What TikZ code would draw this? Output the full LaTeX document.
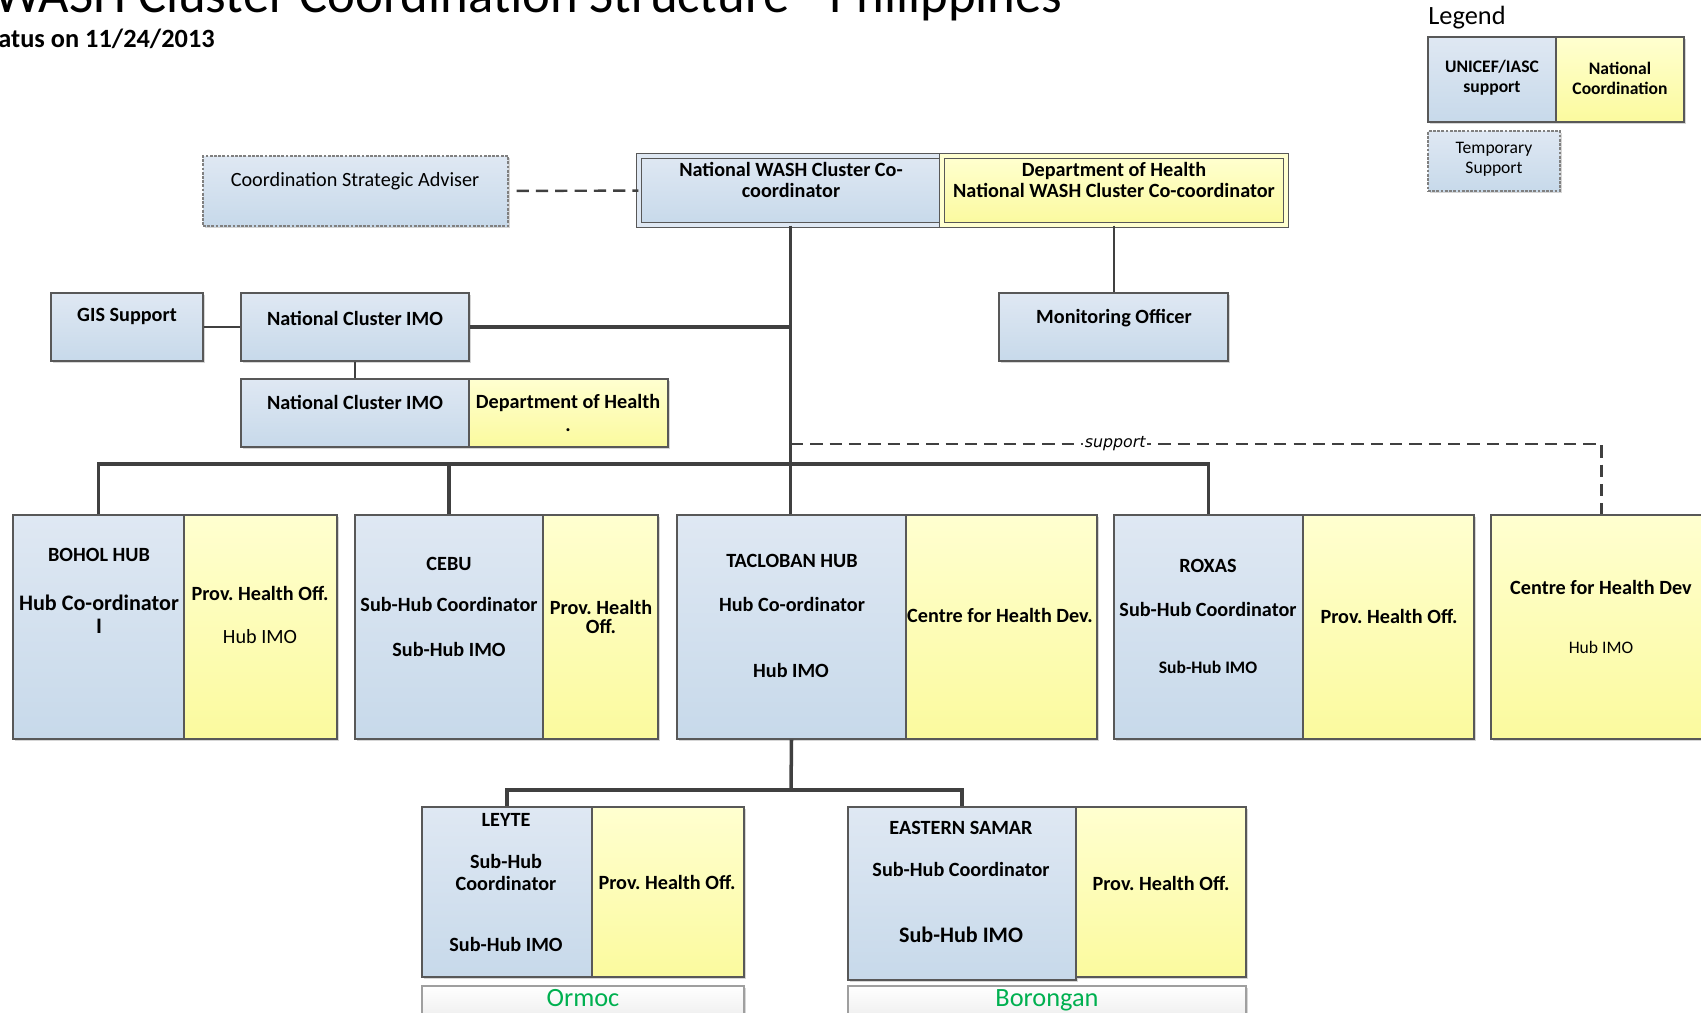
\documentclass[tikz,border=0pt]{standalone}
\usepackage{fontspec}
\setmainfont{Carlito}
\newfontfamily\supfont{DejaVu Sans}
\usetikzlibrary{fit,shadows}
\definecolor{bluetop}{RGB}{223,232,243}
\definecolor{bluebot}{RGB}{199,217,234}
\definecolor{yeltop}{RGB}{255,255,208}
\definecolor{yelbot}{RGB}{251,250,158}
\definecolor{edgecol}{RGB}{88,88,88}
\definecolor{wirecol}{RGB}{64,64,64}
\definecolor{placegreen}{RGB}{0,176,80}
\frenchspacing

\begin{document}
\begin{tikzpicture}[x=0.02cm,y=-0.02cm,
    font=\fontsize{11.5}{12}\selectfont\bfseries,
    unit/.style={draw=edgecol, line width=0.6pt, inner sep=0pt,
        drop shadow={shadow xshift=1.3pt, shadow yshift=-1.3pt, fill=black!16, opacity=1}},
    bluebox/.style={unit, top color=bluetop, bottom color=bluebot},
    yellowbox/.style={unit, top color=yeltop, bottom color=yelbot},
    tempbox/.style={bluebox, draw=gray, dash pattern=on 1.6pt off 0.8pt},
    placebox/.style={unit, draw=gray!75, top color=white, bottom color=gray!18},
    txt/.style={inner sep=0pt, align=center},
    plain/.style={txt, font=\fontsize{11.5}{12}\selectfont\mdseries},
    link/.style={draw=wirecol, line width=2pt},
    lightlink/.style={draw=wirecol, line width=1.4pt},
    dashlink/.style={draw=wirecol, line width=1.4pt, dash pattern=on 7pt off 4pt}
  ]
  \useasboundingbox (0,0) rectangle (1701,1012);

  % title
  \node[anchor=base east, inner sep=0pt, font=\fontsize{30}{30}\selectfont\mdseries] (title) at (1063,12) {WASH Cluster Coordination Structure - Philippines};
  \node[anchor=base east, inner sep=0pt, font=\fontsize{15}{15}\selectfont\bfseries] (status) at (215,47) {Status on 11/24/2013};

  % legend
  \node[plain, font=\fontsize{15}{15}\selectfont\mdseries] (legend) at (1467,18) {Legend};
  \node[bluebox, fit={(1428,37) (1556,122)}] (leg-unicef) {};
  \node[yellowbox, fit={(1556,37) (1684,122)}] (leg-nat) {};
  \node[tempbox, fit={(1428,131) (1560,191)}] (leg-temp) {};
  \node[txt, font=\fontsize{10}{11.3}\selectfont\bfseries] (leg-unicef-t) at (1492,78) {UNICEF/IASC\\support};
  \node[txt, font=\fontsize{10}{11.3}\selectfont\bfseries] (leg-nat-t) at (1620,78) {National\\Coordination};
  \node[txt, font=\fontsize{10}{11.3}\selectfont\mdseries] (leg-temp-t) at (1494,159) {Temporary\\Support};

  % national level
  \node[tempbox, fit={(203,156) (508,226)}] (adviser) {};
  \node[plain] (adviser-t) at (355,181) {Coordination Strategic Adviser};
  \node[bluebox, fit={(639,156) (942,225)}, double=bluetop, double distance=2pt] (national) {};
  \node[yellowbox, fit={(942,156) (1286,225)}, double=yeltop, double distance=2pt] (dohnat) {};
  \node[txt] (national-t) at (791,180) {National WASH Cluster Co-\\coordinator};
  \node[txt] (dohnat-t) at (1114,180) {Department of Health\\National WASH Cluster Co-coordinator};

  \node[bluebox, fit={(51,293) (203,361)}] (gis) {};
  \node[txt] (gis-t) at (127,316) {GIS Support};
  \node[bluebox, fit={(241,293) (469,361)}] (imo1) {};
  \node[txt] (imo1-t) at (355,318) {National Cluster IMO};
  \node[bluebox, fit={(241,379) (469,447)}] (imo2) {};
  \node[yellowbox, fit={(469,379) (668,447)}] (doh2) {};
  \node[txt] (imo2-t) at (355,402) {National Cluster IMO};
  \node[txt, font=\fontsize{11.5}{13.6}\selectfont\bfseries] (doh2-t) at (568,413) {Department of Health\\.};
  \node[bluebox, fit={(999,293) (1228,361)}] (monitor) {};
  \node[txt] (monitor-t) at (1114,318) {Monitoring Officer};

  % hubs
  \node[bluebox, fit={(13,515) (184,739)}] (bohol) {};
  \node[yellowbox, fit={(184,515) (337,739)}] (bohol-y) {};
  \node[txt] (bohol-t1) at (99,555) {BOHOL HUB};
  \node[txt, font=\fontsize{12.6}{13}\selectfont\bfseries] (bohol-t2) at (99,614) {Hub Co-ordinator\\I};
  \node[txt] (bohol-t3) at (260,593) {Prov. Health Off.};
  \node[plain] (bohol-t4) at (260,637) {Hub IMO};

  \node[bluebox, fit={(355,515) (543,739)}] (cebu) {};
  \node[yellowbox, fit={(543,515) (658,739)}] (cebu-y) {};
  \node[txt] (cebu-t1) at (449,564) {CEBU};
  \node[txt] (cebu-t2) at (449,604) {Sub-Hub Coordinator};
  \node[txt] (cebu-t3) at (449,649) {Sub-Hub IMO};
  \node[txt, font=\fontsize{11.5}{11.3}\selectfont\bfseries] (cebu-t4) at (601,617) {Prov. Health\\Off.};

  \node[bluebox, fit={(677,515) (906,739)}] (tacloban) {};
  \node[yellowbox, fit={(906,515) (1097,739)}] (tacloban-y) {};
  \node[txt] (tacloban-t1) at (792,561) {TACLOBAN HUB};
  \node[txt] (tacloban-t2) at (792,604) {Hub Co-ordinator};
  \node[txt] (tacloban-t3) at (791,670) {Hub IMO};
  \node[txt] (tacloban-t4) at (1000,615) {Centre for Health Dev.};

  \node[bluebox, fit={(1114,515) (1303,739)}] (roxas) {};
  \node[yellowbox, fit={(1303,515) (1474,739)}] (roxas-y) {};
  \node[txt] (roxas-t1) at (1208,566) {ROXAS};
  \node[txt] (roxas-t2) at (1208,609) {Sub-Hub Coordinator};
  \node[txt, font=\fontsize{10}{11}\selectfont\bfseries] (roxas-t3) at (1208,667) {Sub-Hub IMO};
  \node[txt] (roxas-t4) at (1389,616) {Prov. Health Off.};

  \node[yellowbox, fit={(1491,515) (1712,739)}] (chd) {};
  \node[txt] (chd-t1) at (1601,587) {Centre for Health Dev};
  \node[plain, font=\fontsize{10}{11}\selectfont\mdseries] (chd-t2) at (1601,647) {Hub IMO};

  % sub-hubs
  \node[bluebox, fit={(422,807) (592,977)}] (leyte) {};
  \node[yellowbox, fit={(592,807) (744,977)}] (leyte-y) {};
  \node[txt] (leyte-t1) at (506,820) {LEYTE};
  \node[txt, font=\fontsize{11.5}{12.5}\selectfont\bfseries] (leyte-t2) at (506,872) {Sub-Hub\\Coordinator};
  \node[txt] (leyte-t3) at (506,944) {Sub-Hub IMO};
  \node[txt] (leyte-t4) at (667,882) {Prov. Health Off.};
  \node[placebox, fit={(422,986) (744,1030)}] (ormoc) {};
  \node[plain, anchor=base, text=placegreen, font=\fontsize{15}{15}\selectfont\mdseries] (ormoc-t) at (583,1006) {Ormoc};

  \node[bluebox, fit={(848,807) (1076,980)}] (esamar) {};
  \node[yellowbox, fit={(1076,807) (1246,977)}] (esamar-y) {};
  \node[txt] (esamar-t1) at (961,828) {EASTERN SAMAR};
  \node[txt] (esamar-t2) at (961,869) {Sub-Hub Coordinator};
  \node[txt, font=\fontsize{12.6}{13}\selectfont\bfseries] (esamar-t3) at (961,935) {Sub-Hub IMO};
  \node[txt] (esamar-t4) at (1161,883) {Prov. Health Off.};
  \node[placebox, fit={(848,986) (1246,1030)}] (borongan) {};
  \node[plain, anchor=base, text=placegreen, font=\fontsize{15}{15}\selectfont\mdseries] (borongan-t) at (1047,1006) {Borongan};

  % connectors
  \draw[dashlink, shorten <=0.16cm] (adviser) -- (national);
  \draw[link] (national.south) -- (national.south |- tacloban.north);
  \draw[link] (imo1) -- (imo1 -| national.south);
  \draw[lightlink] (gis) -- (imo1);
  \draw[lightlink] (imo1) -- (imo2);
  \draw[lightlink] (dohnat.south) -- (dohnat.south |- monitor.north);

  \coordinate (bus) at (791,464);
  \draw[link] (bohol.north) |- (bus) -| (roxas.north);
  \draw[link] (cebu.north) -- (cebu.north |- bus);

  \coordinate (supp) at (791,444);
  \draw[dashlink] (supp) -| (chd.north)
    node[pos=0.2, fill=white, inner sep=1pt, font=\supfont\itshape\fontsize{9}{9}\selectfont] (supp-lbl) {support};

  \coordinate (tbus) at (791,790);
  \draw[link] (tacloban.south) -- (tbus);
  \draw[link] (leyte.north) |- (tbus) -| (esamar.north);
\end{tikzpicture}
\end{document}
